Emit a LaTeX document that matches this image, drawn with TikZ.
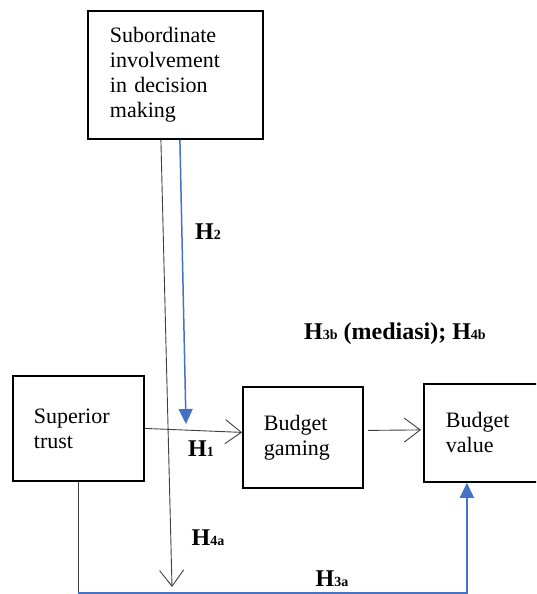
\documentclass[tikz,border=0pt]{standalone}
\usepackage{fontspec}
\setmainfont{Liberation Serif}
\usetikzlibrary{arrows.meta}
\definecolor{hypblue}{RGB}{68,114,196}
\newcommand\hyp[1]{H{\fontsize{14}{14}\selectfont #1}}

\begin{document}
\begin{tikzpicture}[x=1pt,y=-1pt,
  box/.style={draw, line width=1.8pt, rectangle, anchor=north west, align=left,
    font=\fontsize{22}{25}\selectfont, inner ysep=0pt},
  conn/.style={draw=black!75, line width=0.9pt},
  openarr/.style={-{Straight Barb[length=16pt,width=24pt]}},
  blueconn/.style={draw=hypblue, line width=1.5pt},
  bluearr/.style={-{Triangle[length=15pt,width=14pt]}},
  lbl/.style={font=\fontsize{24}{24}\selectfont\bfseries}]

% page size:
\useasboundingbox (0,0) rectangle (536,594);
\clip (0,0) rectangle (536,594);

% boxes:
\node[box, inner xsep=22pt, text width=131pt, minimum height=128pt] (sub) at (87,10)
  {Subordinate\\involvement\\in decision\\making};
\node[box, inner xsep=21pt, text width=89pt, minimum height=105pt] (sup) at (12,375)
  {Superior\\trust};
\node[box, inner xsep=21pt, text width=78pt, minimum height=101pt] (gam) at (242,386)
  {Budget\\gaming};
\node[box, inner xsep=22pt, text width=81pt, minimum height=98pt] (val) at (423,383)
  {Budget\\value};

% free ends:
\coordinate (h2end) at (186,424);
\coordinate (h4end) at (172,587);

% connectors:
\draw[conn, openarr] ([xshift=-14.5pt]sub.south) -- (h4end);
\draw[blueconn, bluearr] ([xshift=4.5pt]sub.south) -- (h2end);
\draw[conn, openarr] (sup.east) -- ([yshift=5pt]gam.west);
\draw[conn, openarr] ([xshift=4pt,yshift=7pt]gam.east) -- ([xshift=-2pt,yshift=3pt]val.west);
\draw[conn] (sup.south) -- ++(0,111) coordinate (bend);
\draw[blueconn, bluearr] (bend) -| ([xshift=-19.5pt]val.south);

% labels:
\node[lbl] (lh2) at (208,232) {\hyp{2}};
\node[lbl] (lh1) at (201,449) {\hyp{1}};
\node[lbl] (lh4a) at (208,538) {\hyp{4a}};
\node[lbl] (lh3a) at (332,579) {\hyp{3a}};
\node[lbl] (lh3b) at (395,334) {\hyp{3b} (mediasi); \hyp{4b}};

\end{tikzpicture}
\end{document}
